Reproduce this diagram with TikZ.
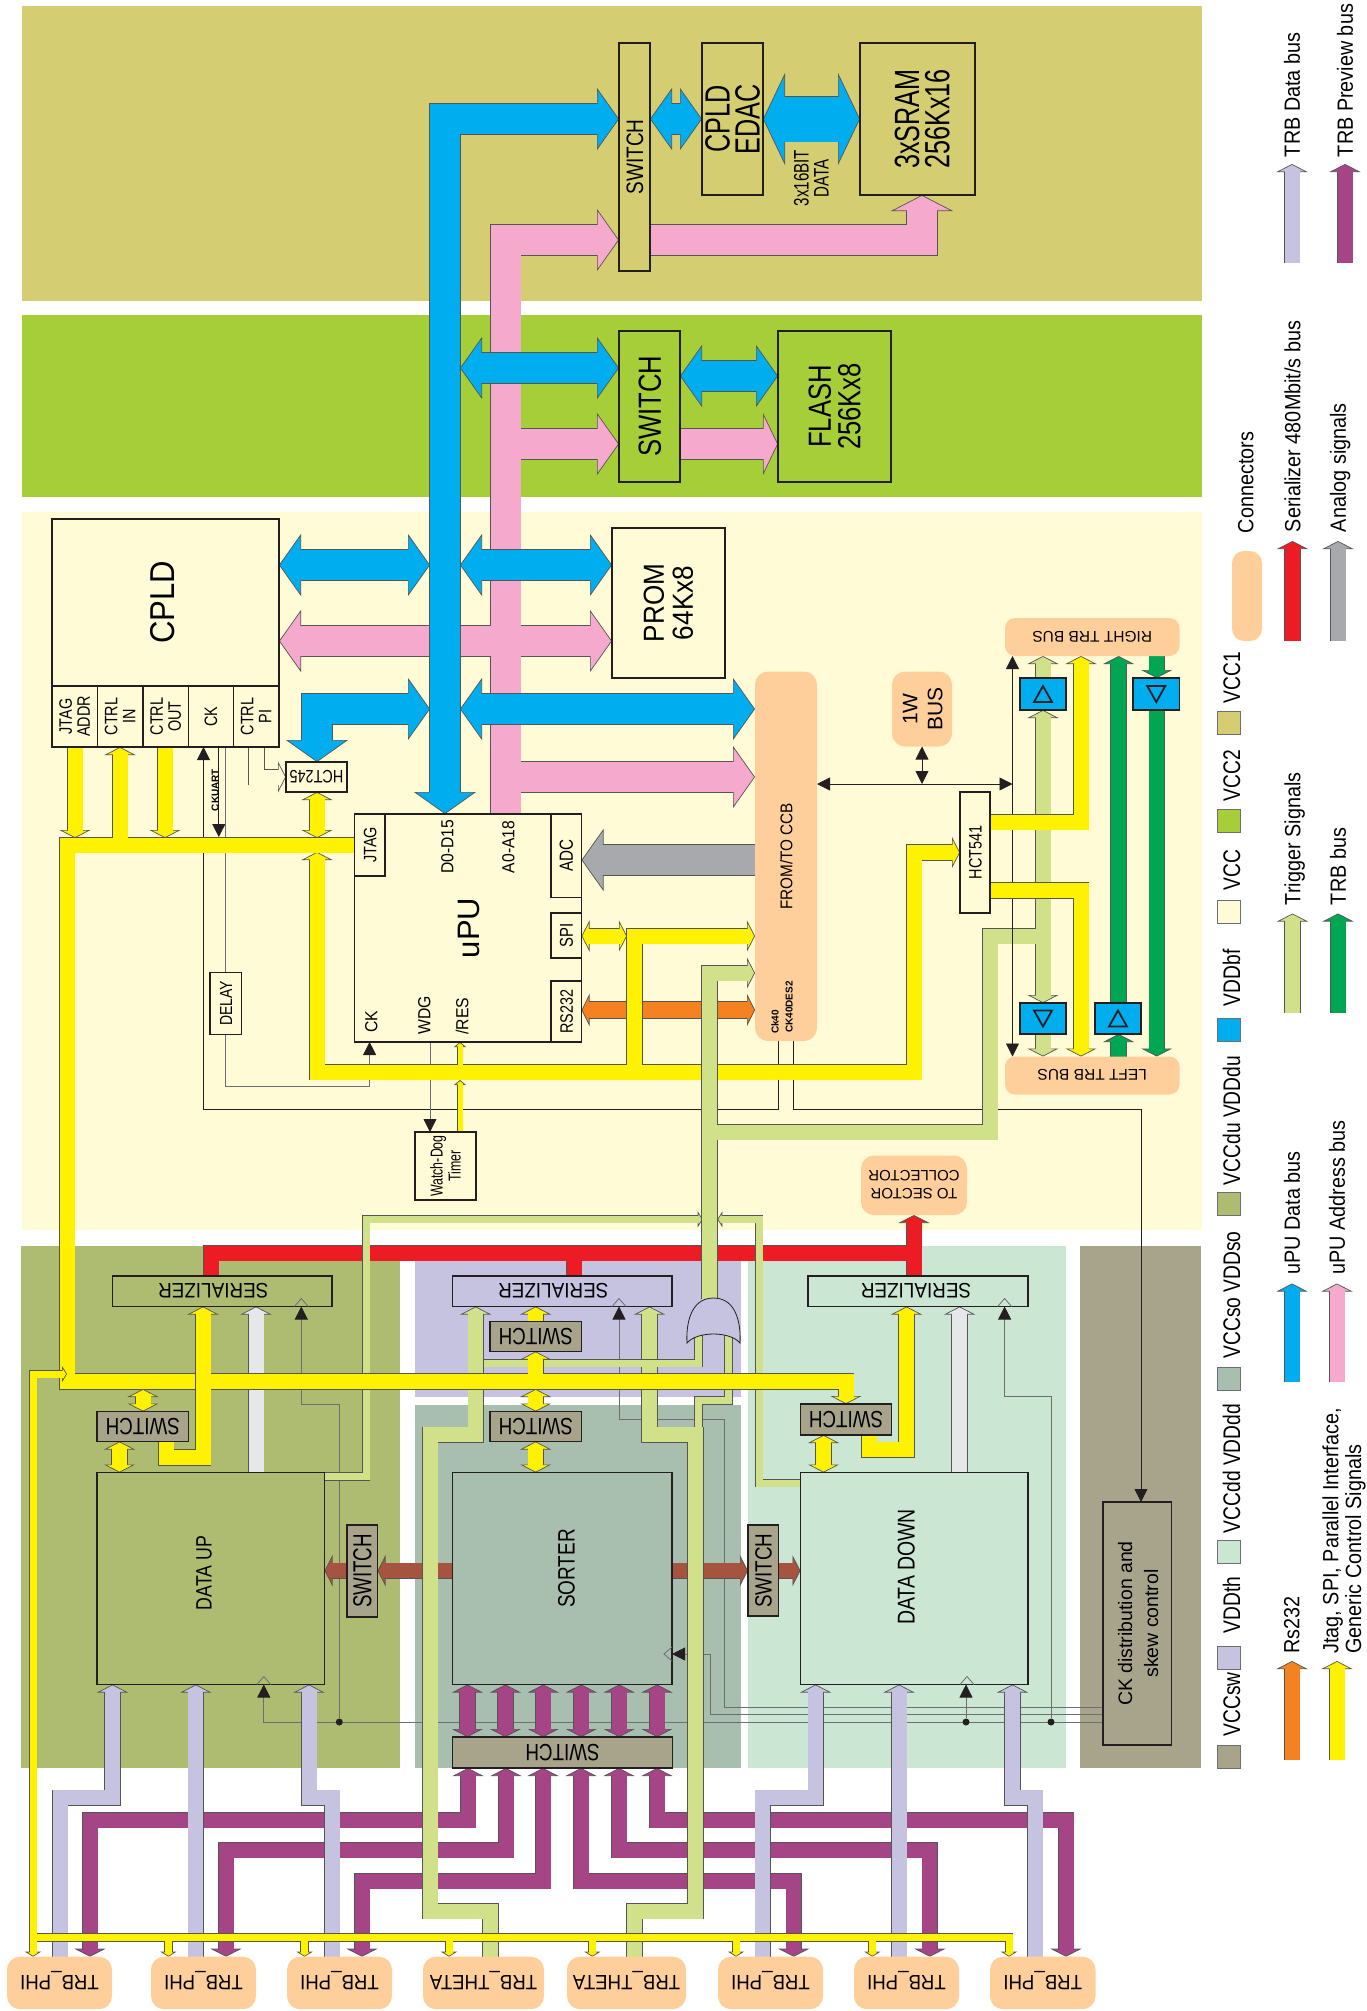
\documentclass[tikz,border=0pt]{standalone}
\usepackage{fontspec}
\usepackage{graphicx}
\usepackage{xcolor}
\setmainfont{Liberation Sans}
\newfontfamily\fb[FakeStretch=0.9]{Liberation Sans}
\newfontfamily\fa[FakeStretch=0.8]{Liberation Sans}
\newfontfamily\fc[FakeStretch=0.72]{Liberation Sans}
\usetikzlibrary{
    arrows.meta
}
\definecolor{vccone}{HTML}{D5CD72}
\definecolor{vcctwo}{HTML}{A6CE39}
\definecolor{vccmain}{HTML}{FFFBD6}
\definecolor{regdu}{HTML}{AEBC72}
\definecolor{regsw}{HTML}{C5C3E0}
\definecolor{regso}{HTML}{A8BEAE}
\definecolor{regdd}{HTML}{CBE6D3}
\definecolor{regck}{HTML}{A8A48C}
\definecolor{ublue}{HTML}{00AEEF}
\definecolor{upink}{HTML}{F5A9CC}
\definecolor{ctlyel}{HTML}{FFF200}
\definecolor{serred}{HTML}{ED1C24}
\definecolor{rsorange}{HTML}{F58220}
\definecolor{anagray}{HTML}{A7A9AC}
\definecolor{trig}{HTML}{D1E18A}
\definecolor{trbgreen}{HTML}{00A651}
\definecolor{prevmag}{HTML}{A54586}
\definecolor{palegray}{HTML}{E6E7E8}
\definecolor{linkbrown}{HTML}{A65340}
\definecolor{padcol}{HTML}{FFCF9B}
\definecolor{busedge}{HTML}{555555}
\definecolor{boxedge}{HTML}{231F20}
\definecolor{softwire}{HTML}{6D6E71}
\pgfdeclarelayer{regions}
\pgfdeclarelayer{buses}
\pgfsetlayers{regions,buses,main}
\newcommand{\sz}[2]{\fontsize{#1}{#2}\selectfont}
\newcommand{\lowered}[1]{\raisebox{-.14em}[\height][\depth]{#1}}
\newcommand{\rot}[1]{\rotatebox{90}{\lowered{\begin{tabular}{@{}c@{}}#1\end{tabular}}}}
\newcommand{\rotl}[1]{\rotatebox{90}{\lowered{\begin{tabular}{@{}l@{}}#1\end{tabular}}}}
\newcommand{\flip}[1]{\rotatebox{180}{\lowered{\begin{tabular}{@{}c@{}}#1\end{tabular}}}}
\tikzset{
    region/.style 2 args={anchor=north west, inner sep=0pt, outer sep=0pt, minimum width=#1pt, minimum height=#2pt},
    block/.style 2 args={region={#1}{#2}, draw=boxedge, line width=1.3pt},
    pad/.style 2 args={region={#1}{#2}, fill=padcol, rounded corners=13pt},
    swatch/.style={region={23}{23}, draw=softwire, line width=.6pt},
    lab/.style={inner sep=0pt, outer sep=0pt},
    leg/.style={lab, anchor=south},
    legv/.style={leg, font=\fa\sz{24}{26}},
    legt/.style={leg, font=\fb\sz{22}{22}},
    swb/.style={fill=regck, font=\fa\sz{23.5}{26}},
    jdot/.style={circle, fill=boxedge, inner sep=0pt, minimum size=7pt},
    wire/.style={draw=boxedge, line width=.8pt},
    gwire/.style={draw=softwire, line width=.8pt},
    wiretip/.tip={Triangle[length=13pt,width=13pt,color=boxedge]},
    one tip/.style={->},
    both tip/.style={<->},
    none tip/.style={},
    one body/.style={shorten >=#1pt-1.5pt},
    both body/.style={shorten >=#1pt-1.5pt, shorten <=#1pt-1.5pt},
    none body/.style={},
    tri/.pic={\draw[boxedge, line width=1.8pt] (-9,8) -- (0,-8) -- (9,8) -- cycle;},
    clk/.pic={\draw[gwire] (-7,0) -- (0,-8) -- (7,0);}
}
\def\buspass{2}
% tips, colour, width, head width, head length, path
\newcommand{\bus}[6]{%
    \begin{scope}[>={Triangle[length=#5pt,width=#4pt,fill=#2,color=busedge,line width=.7pt]}]
        \ifnum\buspass=1\else
            \draw[#1 tip, busedge, line width=#3pt+1.3pt] #6;
        \fi
        \ifnum\buspass=0\else
            \draw[#1 body=#5, #2, line width=#3pt] #6;
        \fi
    \end{scope}%
}
\newcommand{\fatbus}[3]{\bus{#1}{#2}{30}{62}{22}{#3}}
\newcommand{\midbus}[3]{\bus{#1}{#2}{15}{31}{8}{#3}}
\newcommand{\slimbus}[3]{\bus{#1}{#2}{7}{16}{5}{#3}}
\newcommand{\busgroup}[1]{\def\buspass{0}#1\def\buspass{1}#1\def\buspass{2}}

\begin{document}
\begin{tikzpicture}[x=1pt, y=-1pt]
    \useasboundingbox (0,0) rectangle (1367,2011);

    \begin{pgfonlayer}{regions}
        \node[region={1180}{295}, fill=vccone] (regvccone) at (22,6) {};
        \node[region={1180}{182}, fill=vcctwo] (regvcctwo) at (22,315) {};
        \node[region={1180}{718}, fill=vccmain] (regvcc) at (22,512) {};
        \node[region={379}{522}, fill=regdu] (regdu) at (21,1246) {};
        \node[region={326}{151}, fill=regsw] (regth) at (415,1246) {};
        \node[region={326}{363}, fill=regso] (regso) at (415,1405) {};
        \node[region={318}{522}, fill=regdd] (regdd) at (748,1246) {};
        \node[region={121}{522}, fill=regck] (regck) at (1080,1246) {};
    \end{pgfonlayer}

    % memories
    \node[block={31}{228}, fill=vccone, font=\fa\sz{23.8}{26}] (swtop) at (619,43) {\rot{SWITCH}};
    \node[block={61}{152}, fill=vccone] (edac) at (702,43) {};
    \node[lab, font=\fc\sz{35}{30}] (edactxt) at (732,119) {\rot{CPLD\\[-3.5pt]EDAC}};
    \node[block={115}{152}, fill=vccone, font=\fc\sz{35}{29}] (sram) at (860,43) {\hspace*{8pt}\rot{3xSRAM\\[-3pt]256Kx16}};
    \node[lab, font=\fc\sz{21}{18}] (sramdata) at (811,178) {\rot{3x16BIT\\DATA}};
    \node[block={61}{151}, fill=vcctwo, font=\fa\sz{32}{34}] (swflash) at (619,331) {\rot{SWITCH}};
    \node[block={113}{151}, fill=vcctwo, font=\fa\sz{32}{30}] (flash) at (778,331) {\rot{FLASH\\[-2pt]256Kx8}};
    \node[block={113}{150}, fill=vccmain, font=\fb\sz{29}{29}] (prom) at (612,528) {\rot{PROM\\64Kx8}};

    % cpld
    \node[block={227}{167}, fill=vccmain, font=\fb\sz{34.5}{36}] (cpld) at (52,519) {\rot{CPLD}\hspace*{6pt}};
    \node[block={45.5}{61}, fill=vccmain, font=\fa\sz{18}{18}] (cjtag) at (52,686) {\rot{JTAG\\ADDR}};
    \node[block={45.5}{61}, fill=vccmain, font=\fa\sz{18}{18}] (cctrlin) at (97.5,686) {\rot{CTRL\\IN}};
    \node[block={45.5}{61}, fill=vccmain, font=\fa\sz{18}{18}] (cctrlout) at (143,686) {\rot{CTRL\\OUT}};
    \node[block={45}{61}, fill=vccmain, font=\fa\sz{18}{18}] (cck) at (188.5,686) {\rot{CK}};
    \node[block={45.5}{61}, fill=vccmain, font=\fa\sz{18}{18}] (cctrlpi) at (233.5,686) {\rot{CTRL\\PI}};
    \node[block={61}{30}, fill=vccmain, font=\fa\sz{18}{20}] (hct245) at (286,762) {\flip{HCT245}};
    \node[block={31.5}{62}, fill=vccmain, font=\fa\sz{17.5}{20}] (delay) at (210,972.5) {\rot{DELAY}};
    \node[lab, font=\bfseries\sz{10}{11}] (ckuart) at (215,790) {\rot{CKUART}};

    % upu
    \node[block={227}{228}, fill=vccmain, font=\sz{31}{34}] (upu) at (354.5,814) {\rot{uPU}};
    \node[block={30.5}{62}, fill=vccmain, font=\fa\sz{18}{20}] (upujtag) at (354.5,814) {\rot{JTAG}};
    \node[block={30.5}{83.5}, fill=vccmain, font=\fa\sz{19}{20}] (adc) at (551,814) {\rot{ADC}};
    \node[block={30.5}{45}, fill=vccmain, font=\fa\sz{18.6}{20}] (spi) at (551,913) {\rot{SPI}};
    \node[block={30.5}{61}, fill=vccmain, font=\fa\sz{18}{20}] (rstwo) at (551,981) {\rot{RS232}};
    \node[lab, font=\fb\sz{17.4}{20}] (dlabel) at (447,847) {\rot{D0-D15}};
    \node[lab, font=\fb\sz{17.4}{20}] (alabel) at (508,847) {\rot{A0-A18}};
    \node[lab, font=\fb\sz{17.5}{20}] (cklabel) at (371,1022) {\rot{CK}};
    \node[lab, font=\fb\sz{17.5}{20}] (wdglabel) at (424,1015) {\rot{WDG}};
    \node[lab, font=\fb\sz{17.5}{20}] (reslabel) at (462,1016) {\rot{/RES}};
    \node[block={61}{68}, fill=vccmain, font=\fc\sz{17.2}{18}] (wdt) at (415,1132) {\rot{Watch-Dog\\Timer}};

    % ccb side
    \node[pad={62}{369.5}, font=\fb\sz{17}{20}] (ccb) at (755,671.5) {\rot{FROM/TO CCB}};
    \node[lab, font=\bfseries\sz{10}{11}] (ckforty) at (775,1022) {\rot{Ck40}};
    \node[lab, font=\bfseries\sz{10}{11}] (ckdes) at (789,1007) {\rot{CK40DES2}};
    \node[pad={60}{75}, font=\sz{21}{25}] (onewire) at (892,671.5) {\rot{1W\\BUS}};
    \node[block={30}{121}, fill=vccmain, font=\fa\sz{18}{20}] (hct541) at (960,792) {\rot{HCT541}};
    \node[pad={174.5}{38}, font=\sz{15.5}{18}, rounded corners=10pt] (rbus) at (1005,618) {\flip{RIGHT TRB BUS}};
    \node[pad={174.5}{38}, font=\sz{15.5}{18}, rounded corners=10pt] (lbus) at (1005,1056.5) {\flip{LEFT TRB BUS}};
    \node[pad={106}{59.5}, font=\sz{15}{18}] (tosec) at (861,1155.5) {\flip{TO SECTOR\\COLLECTOR}};
    \node[block={46}{32}, fill=ublue] (bufa) at (1020,678) {};
    \node[block={46.5}{32}, fill=ublue] (bufb) at (1133,678) {};
    \node[block={46}{31}, fill=ublue] (bufc) at (1020,1003) {};
    \node[block={46}{31}, fill=ublue] (bufd) at (1095,1003) {};
    \pic at (bufa) {tri};
    \pic[rotate=180] at (bufb) {tri};
    \pic[rotate=180] at (bufc) {tri};
    \pic at (bufd) {tri};

    % front end
    \node[block={219.5}{30.5}, fill=regdu, font=\fb\sz{21}{24}] (serup) at (112.5,1276) {\flip{SERIALIZER}\hspace*{18pt}};
    \node[block={219.5}{30.5}, fill=regsw, font=\fb\sz{21}{24}] (sersort) at (452.5,1276) {\flip{SERIALIZER}\hspace*{18pt}};
    \node[block={220}{30.5}, fill=regdd, font=\fb\sz{21}{24}] (serdown) at (808,1276) {\flip{SERIALIZER}\hspace*{4pt}};
    \node[block={91.5}{30}, swb] (swserup) at (97,1411.5) {\flip{SWITCH}};
    \node[block={91.5}{30}, swb] (swsorta) at (490,1321.5) {\flip{SWITCH}};
    \node[block={91.5}{30}, swb] (swsortb) at (490,1411.5) {\flip{SWITCH}};
    \node[block={91}{31}, swb] (swserdown) at (800.5,1404) {\flip{SWITCH}};
    \node[block={227.5}{212}, fill=regdu] (dataup) at (97,1472.5) {};
    \node[block={219.5}{212}, fill=regso] (sorter) at (452.5,1472.5) {};
    \node[block={227.5}{212}, fill=regdd] (datadown) at (800.5,1472.5) {};
    \node[lab, font=\fa\sz{22.2}{24}] (datauptxt) at (203.6,1573) {\rot{DATA UP}};
    \node[lab, font=\fa\sz{23.7}{26}] (sortertxt) at (566,1568.6) {\rot{SORTER}};
    \node[lab, font=\fa\sz{24.3}{26}] (datadowntxt) at (906,1567) {\rot{DATA DOWN}};
    \node[block={30.5}{92}, fill=regck, font=\fc\sz{26}{28}] (swleft) at (347,1525) {\rot{SWITCH}};
    \node[block={30.5}{91}, swb] (swright) at (748,1525) {\rot{SWITCH}};
    \node[block={220}{31}, swb] (swbot) at (452.5,1737) {\flip{SWITCH}};
    \node[block={68.5}{243}, fill=regck, font=\sz{19.5}{26}] (ckdist) at (1103,1502) {\rot{CK distribution and\\skew control}};
    \node[jdot] (dotup) at (339.3,1722) {};
    \node[jdot] (dotdown) at (966,1722) {};
    \node[jdot] (dotser) at (1051,1722) {};
    \pic at (301.3,1306.5) {clk};
    \pic at (619,1306.5) {clk};
    \pic at (1004.6,1306.5) {clk};
    \pic at (263.8,1684.5) {clk};
    \pic at (967,1684.5) {clk};
    \pic[rotate=90] at (672,1654) {clk};

    \draw[gwire, draw=boxedge, fill=regsw] (687,1343) .. controls (686,1325) and (690,1298) .. (713.5,1298)
        .. controls (737,1298) and (741,1325) .. (740,1343)
        .. controls (730,1331) and (697,1331) .. (687,1343) -- cycle;

    % connectors
    \node[pad={105}{52.5}, font=\fb\sz{20.7}{24}] (trba) at (7,1956.7) {\flip{TRB\_PHI}};
    \node[pad={105}{52.5}, font=\fb\sz{20.7}{24}] (trbb) at (151,1956.7) {\flip{TRB\_PHI}};
    \node[pad={105}{52.5}, font=\fb\sz{20.7}{24}] (trbc) at (287,1956.7) {\flip{TRB\_PHI}};
    \node[pad={121}{52.5}, font=\fb\sz{20.7}{24}] (trbd) at (423,1956.7) {\flip{TRB\_THETA}};
    \node[pad={119}{52.5}, font=\fb\sz{20.7}{24}] (trbe) at (567,1956.7) {\flip{TRB\_THETA}};
    \node[pad={105}{52.5}, font=\fb\sz{20.7}{24}] (trbf) at (718,1956.7) {\flip{TRB\_PHI}};
    \node[pad={105}{52.5}, font=\fb\sz{20.7}{24}] (trbg) at (854,1956.7) {\flip{TRB\_PHI}};
    \node[pad={105.5}{52.5}, font=\fb\sz{20.7}{24}] (trbh) at (990,1956.7) {\flip{TRB\_PHI}};

    % legend
    \node[swatch, fill=vccone] (keyvccone) at (1217,711) {};
    \node[swatch, fill=vcctwo] (keyvcctwo) at (1217,809) {};
    \node[swatch, fill=vccmain] (keyvcc) at (1217,900) {};
    \node[swatch, fill=ublue] (keybf) at (1217,1018) {};
    \node[swatch, fill=regdu] (keydu) at (1217,1192.5) {};
    \node[swatch, fill=regso] (keyso) at (1217,1367) {};
    \node[swatch, fill=regdd] (keydd) at (1217,1540.5) {};
    \node[swatch, fill=regsw] (keyth) at (1217,1646.5) {};
    \node[swatch, fill=regck] (keysw) at (1217,1745) {};
    \node[legv] (txtvccone) at (1231.5,703) {\rot{VCC1}};
    \node[legv] (txtvcctwo) at (1231.5,801) {\rot{VCC2}};
    \node[legv] (txtvcc) at (1231.5,890) {\rot{VCC}};
    \node[legv] (txtbf) at (1231.5,1006) {\rot{VDDbf}};
    \node[legv] (txtdu) at (1231.5,1185) {\rot{VCCdu VDDdu}};
    \node[legv] (txtso) at (1231.5,1358.5) {\rot{VCCso VDDso}};
    \node[legv] (txtdd) at (1231.5,1533) {\rot{VCCdd VDDdd}};
    \node[legv] (txtth) at (1231.5,1633.5) {\rot{VDDth}};
    \node[legv] (txtsw) at (1231.5,1736.5) {\rot{VCCsw}};
    \node[legt] (txtconn) at (1246,533) {\rot{Connectors}};
    \node[region={30}{90}, fill=padcol, rounded corners=12pt] (keyconn) at (1232,551) {};
    \node[legt] (txtdata) at (1292,157) {\rot{TRB Data bus}};
    \node[legt] (txtprev) at (1345,157) {\rot{TRB Preview bus}};
    \node[legt] (txtser) at (1292.5,532) {\rot{Serializer 480Mbit/s bus}};
    \node[legt] (txtana) at (1338,532) {\rot{Analog signals}};
    \node[legt] (txttrig) at (1292.5,905) {\rot{Trigger Signals}};
    \node[legt] (txttrb) at (1338,905) {\rot{TRB bus}};
    \node[legt] (txtupd) at (1292,1274.5) {\rot{uPU Data bus}};
    \node[legt] (txtupa) at (1337,1274.5) {\rot{uPU Address bus}};
    \node[legt] (txtrs) at (1292,1653.5) {\rot{Rs232}};
    \node[legt] (txtjtag) at (1342,1653.5) {\rotl{Jtag, SPI, Parallel Interface,\\Generic Control Signals}};

    \coordinate (dataL) at (430,0);
    \coordinate (dataR) at (460,0);
    \coordinate (jtagkey) at (1337,0);

    \begin{pgfonlayer}{buses}
        % thin wires first
        \draw[wire, -{wiretip}] (778,0 |- ccb.south) -- (778,1109) -- (203.5,1109) -- (203.5,0 |- cck.south);
        \draw[wire, -{wiretip}] (793,0 |- ccb.south) -- (793,1109) -- (1141,1109) -- (1141,0 |- ckdist.north);
        \draw[wire, -{wiretip}] (218.8,0 |- cck.south) -- (218.8,837);
        \draw[gwire] (225.4,0 |- cck.south) -- (225.4,0 |- delay.north);
        \draw[gwire, -{wiretip}] (225.4,0 |- delay.south) -- (225.4,1086.5) -- (369.6,1086.5) -- (369.6,0 |- upu.south);
        \draw[gwire, -{wiretip}] (430,0 |- upu.south) -- (430,0 |- wdt.north);
        \draw[wire, {wiretip}-{wiretip}] (ccb.east |- 0,784) -- (1012.5,784);
        \draw[wire, {wiretip}-{wiretip}] (922,0 |- onewire.south) -- (922,784);
        \draw[gwire, -{wiretip}] (dotup) -- (339.3,1404.3) -- (301.3,1404.3) -- (301.3,0 |- serup.south);
        \draw[gwire, -{wiretip}] (ckdist.west |- 0,1722) -- (263.8,1722) -- (263.8,0 |- dataup.south);
        \draw[gwire, -{wiretip}] (dotdown) -- (966,0 |- datadown.south);
        \draw[gwire, -{wiretip}] (dotser) -- (1051,1396.7) -- (1004.6,1396.7) -- (1004.6,0 |- serdown.south);
        \draw[gwire, -{wiretip}] (ckdist.west |- 0,1707) -- (724.8,1707) -- (724.8,1419.3) -- (619,1419.3) -- (619,0 |- sersort.south);
        \draw[gwire, -{wiretip}] (ckdist.west |- 0,1714.7) -- (710,1714.7) -- (710,1654) -- (sorter.east |- 0,1654);

        % hollow link to the buffer
        \midbus{one}{vccmain}{(256.5,0 |- cctrlpi.south) -- (256.5,777) -- (hct245.west |- 0,777)}

        % brown links
        \midbus{one}{linkbrown}{(sorter.west |- 0,1570.7) -- (swleft.east |- 0,1570.7)}
        \midbus{one}{linkbrown}{(swleft.west |- 0,1570.7) -- (dataup.east |- 0,1570.7)}
        \midbus{one}{linkbrown}{(sorter.east |- 0,1570.7) -- (swright.west |- 0,1570.7)}
        \midbus{one}{linkbrown}{(swright.east |- 0,1570.7) -- (datadown.west |- 0,1570.7)}

        % serializer output
        \busgroup{
            \midbus{none}{serred}{(574,1253) -- (574,0 |- sersort.north)}
            \midbus{none}{serred}{(914,1253) -- (914,0 |- serdown.north)}
            \midbus{one}{serred}{(211,0 |- serup.north) -- (211,1253) -- (914,1253) -- (914,0 |- tosec.south)}
        }

        % preview bus
        \midbus{both}{prevmag}{(467.4,0 |- sorter.south) -- (467.4,0 |- swbot.north)}
        \midbus{both}{prevmag}{(505.4,0 |- sorter.south) -- (505.4,0 |- swbot.north)}
        \midbus{both}{prevmag}{(543.3,0 |- sorter.south) -- (543.3,0 |- swbot.north)}
        \midbus{both}{prevmag}{(581.3,0 |- sorter.south) -- (581.3,0 |- swbot.north)}
        \midbus{both}{prevmag}{(619.2,0 |- sorter.south) -- (619.2,0 |- swbot.north)}
        \midbus{both}{prevmag}{(657,0 |- sorter.south) -- (657,0 |- swbot.north)}
        \midbus{both}{prevmag}{(468,0 |- swbot.south) -- (468,1820) -- (90,1820) -- (90,0 |- trba.north)}
        \midbus{both}{prevmag}{(506,0 |- swbot.south) -- (506,1850) -- (226,1850) -- (226,0 |- trbb.north)}
        \midbus{both}{prevmag}{(543,0 |- swbot.south) -- (543,1881) -- (362,1881) -- (362,0 |- trbc.north)}
        \midbus{both}{prevmag}{(581,0 |- swbot.south) -- (581,1881) -- (793.7,1881) -- (793.7,0 |- trbf.north)}
        \midbus{both}{prevmag}{(619,0 |- swbot.south) -- (619,1850) -- (929.8,1850) -- (929.8,0 |- trbg.north)}
        \midbus{both}{prevmag}{(657,0 |- swbot.south) -- (657,1820) -- (1066,1820) -- (1066,0 |- trbh.north)}

        % data bus
        \midbus{one}{regsw}{(60,0 |- trba.north) -- (60,1797.7) -- (112.5,1797.7) -- (112.5,0 |- dataup.south)}
        \midbus{one}{regsw}{(195.8,0 |- trbb.north) -- (195.8,0 |- dataup.south)}
        \midbus{one}{regsw}{(332,0 |- trbc.north) -- (332,1797.7) -- (309,1797.7) -- (309,0 |- dataup.south)}
        \midbus{one}{regsw}{(762.8,0 |- trbf.north) -- (762.8,1797.7) -- (815.7,1797.7) -- (815.7,0 |- datadown.south)}
        \midbus{one}{regsw}{(899,0 |- trbg.north) -- (899,0 |- datadown.south)}
        \midbus{one}{regsw}{(1035,0 |- trbh.north) -- (1035,1797.7) -- (1012.5,1797.7) -- (1012.5,0 |- datadown.south)}

        % analog
        \midbus{one}{palegray}{(256,0 |- dataup.north) -- (256,0 |- serup.south)}
        \midbus{one}{palegray}{(959.6,0 |- datadown.north) -- (959.6,0 |- serdown.south)}
        \fatbus{one}{anagray}{(ccb.west |- 0,860) -- (adc.east |- 0,860)}
        \bus{both}{rsorange}{16}{32}{8}{(rstwo.east |- 0,1010) -- (ccb.west |- 0,1010)}

        % address bus
        \busgroup{
            \fatbus{one}{upink}{(505.5,0 |- upu.north) -- (505.5,240) -- (swtop.west |- 0,240)}
            \fatbus{one}{upink}{(505.5,444) -- (swflash.west |- 0,444)}
            \fatbus{one}{upink}{(505.5,777) -- (ccb.west |- 0,777)}
            \fatbus{both}{upink}{(cpld.east |- 0,641) -- (prom.west |- 0,641)}
        }
        \bus{one}{upink}{30}{62}{15}{(swflash.east |- 0,444) -- (flash.west |- 0,444)}
        \bus{one}{upink}{30}{62}{16}{(swtop.east |- 0,240) -- (922,240) -- (922,0 |- sram.south)}

        % data bus of the processor
        \fatbus{both}{ublue}{(swtop.west |- 0,119) -- (445,119) -- (445,0 |- upu.north)}
        \fatbus{both}{ublue}{(swtop.east |- 0,119) -- (edac.west |- 0,119)}
        \bus{both}{ublue}{45}{92}{22}{(edac.east |- 0,119) -- (sram.west |- 0,119)}
        \fatbus{both}{ublue}{(dataR |- 0,368) -- (swflash.west |- 0,368)}
        \fatbus{both}{ublue}{(swflash.east |- 0,376) -- (flash.west |- 0,376)}
        \fatbus{both}{ublue}{(cpld.east |- 0,565) -- (dataL |- 0,565)}
        \fatbus{both}{ublue}{(dataR |- 0,565) -- (prom.west |- 0,565)}
        \fatbus{both}{ublue}{(dataL |- 0,709) -- (317,709) -- (317,0 |- hct245.north)}
        \fatbus{both}{ublue}{(dataR |- 0,709) -- (ccb.west |- 0,709)}

        % trigger inputs at the or gate
        \slimbus{one}{trig}{(dataup.east |- 0,1476.5) -- (366,1476.5) -- (366,1219.3) -- (702.7,1219.3)}
        \slimbus{one}{trig}{(datadown.west |- 0,1483) -- (759,1483) -- (759,1219.3) -- (717.4,1219.3)}
        \midbus{one}{trig}{(490.6,0 |- trbd.north) -- (490.6,1911) -- (430,1911) -- (430,1434.7) -- (475.7,1434.7) -- (475.7,0 |- sersort.south)}
        \midbus{one}{trig}{(634.4,0 |- trbe.north) -- (634.4,1911) -- (695.4,1911) -- (695.4,1434.7) -- (649.6,1434.7) -- (649.6,0 |- sersort.south)}
        \slimbus{none}{trig}{(483.5,1363) -- (698.6,1363) -- (698.6,1335)}
        \slimbus{none}{trig}{(728.6,1335) -- (728.6,1400.5) -- (698.6,1400.5) -- (698.6,1427)}

        % control bus, second branch
        \midbus{both}{ctlyel}{(spi.east |- 0,936) -- (627,936)}
        \busgroup{
            \midbus{one}{ctlyel}{(634.5,1072) -- (634.5,936) -- (ccb.west |- 0,936)}
            \midbus{both}{ctlyel}{(317,852) -- (317,1072) -- (914,1072) -- (914,852.5) -- (hct541.west |- 0,852.5)}
        }
        \bus{one}{ctlyel}{5}{12}{5}{(460,1065) -- (460,0 |- upu.south)}
        \bus{one}{ctlyel}{5}{12}{5}{(460,0 |- wdt.north) -- (460,1080)}

        % trigger signals
        \busgroup{
            \midbus{one}{trig}{(709.6,1299) -- (709.6,973) -- (ccb.west |- 0,973)}
            \midbus{one}{trig}{(709.6,1132) -- (990,1132) -- (990,936) -- (1043,936) -- (1043,0 |- bufc.north)}
            \midbus{one}{trig}{(1043,936) -- (1043,0 |- bufa.south)}
        }
        \midbus{one}{trig}{(1043,0 |- bufa.north) -- (1043,0 |- rbus.south)}
        \midbus{one}{trig}{(1043,0 |- bufc.south) -- (1043,0 |- lbus.north)}
        \draw[wire, {wiretip}-{wiretip}] (1012.5,0 |- rbus.south) -- (1012.5,0 |- lbus.north);

        % trb bus
        \midbus{one}{trbgreen}{(1118.6,0 |- bufd.north) -- (1118.6,0 |- rbus.south)}
        \midbus{one}{trbgreen}{(1118.6,0 |- lbus.north) -- (1118.6,0 |- bufd.south)}
        \midbus{one}{trbgreen}{(1156.7,0 |- rbus.south) -- (1156.7,0 |- bufb.north)}
        \midbus{one}{trbgreen}{(1156.7,0 |- bufb.south) -- (1156.7,0 |- lbus.north)}

        % control bus
        \midbus{one}{ctlyel}{(hct541.east |- 0,822) -- (1081,822) -- (1081,0 |- rbus.south)}
        \midbus{one}{ctlyel}{(hct541.east |- 0,890.5) -- (1081,890.5) -- (1081,0 |- lbus.north)}
        \midbus{one}{ctlyel}{(75,0 |- cjtag.south) -- (75,838)}
        \midbus{one}{ctlyel}{(165,0 |- cctrlout.south) -- (165,838)}
        \midbus{both}{ctlyel}{(317,0 |- hct245.south) -- (317,838)}
        \busgroup{
            \midbus{one}{ctlyel}{(120,845) -- (120,0 |- cctrlin.south)}
            \midbus{one}{ctlyel}{(535.7,1381.5) -- (535.7,0 |- swsorta.south)}
            \midbus{one}{ctlyel}{(upujtag.west |- 0,845) -- (67,845) -- (67,1381.5) -- (846,1381.5) -- (846,0 |- swserdown.north)}
        }
        \midbus{one}{ctlyel}{(535.7,0 |- swsorta.north) -- (535.7,0 |- sersort.south)}
        \midbus{both}{ctlyel}{(143,1389) -- (143,0 |- swserup.north)}
        \midbus{both}{ctlyel}{(119.6,0 |- swserup.south) -- (119.6,0 |- dataup.north)}
        \midbus{both}{ctlyel}{(535.7,1389) -- (535.7,0 |- swsortb.north)}
        \midbus{both}{ctlyel}{(535.7,0 |- swsortb.south) -- (535.7,0 |- sorter.north)}
        \midbus{both}{ctlyel}{(823.6,0 |- swserdown.south) -- (823.6,0 |- datadown.north)}
        \midbus{one}{ctlyel}{(166,0 |- swserup.south) -- (166,1457.5) -- (203,1457.5) -- (203,0 |- serup.south)}
        \midbus{one}{ctlyel}{(869,0 |- swserdown.south) -- (869,1449.8) -- (906.5,1449.8) -- (906.5,0 |- serdown.south)}

        % trb control lines
        \busgroup{
            \slimbus{one}{ctlyel}{(168.4,1937.5) -- (168.4,0 |- trbb.north)}
            \slimbus{one}{ctlyel}{(304.6,1937.5) -- (304.6,0 |- trbc.north)}
            \slimbus{one}{ctlyel}{(449,1937.5) -- (449,0 |- trbd.north)}
            \slimbus{one}{ctlyel}{(592.3,1937.5) -- (592.3,0 |- trbe.north)}
            \slimbus{one}{ctlyel}{(736,1937.5) -- (736,0 |- trbf.north)}
            \slimbus{one}{ctlyel}{(872.3,1937.5) -- (872.3,0 |- trbg.north)}
            \slimbus{one}{ctlyel}{(33,1937.5) -- (1009,1937.5) -- (1009,0 |- trbh.north)}
            \slimbus{both}{ctlyel}{(67,1374) -- (33,1374) -- (33,0 |- trba.north)}
        }

        % legend arrows
        \midbus{one}{regsw}{(txtdata.south |- 0,263) -- (txtdata.south |- 0,164)}
        \midbus{one}{prevmag}{(txtprev.south |- 0,263) -- (txtprev.south |- 0,164)}
        \midbus{one}{serred}{(txtser.south |- 0,641) -- (txtser.south |- 0,541)}
        \midbus{one}{anagray}{(txtana.south |- 0,641) -- (txtana.south |- 0,541)}
        \midbus{one}{trig}{(txttrig.south |- 0,1012.5) -- (txttrig.south |- 0,913.5)}
        \midbus{one}{trbgreen}{(txttrb.south |- 0,1012.5) -- (txttrb.south |- 0,913.5)}
        \midbus{one}{ublue}{(txtupd.south |- 0,1382) -- (txtupd.south |- 0,1283.5)}
        \midbus{one}{upink}{(txtupa.south |- 0,1382) -- (txtupa.south |- 0,1283.5)}
        \midbus{one}{rsorange}{(txtrs.south |- 0,1759.5) -- (txtrs.south |- 0,1661)}
        \midbus{one}{ctlyel}{(jtagkey |- 0,1759.5) -- (jtagkey |- 0,1661)}
    \end{pgfonlayer}
\end{tikzpicture}
\end{document}
